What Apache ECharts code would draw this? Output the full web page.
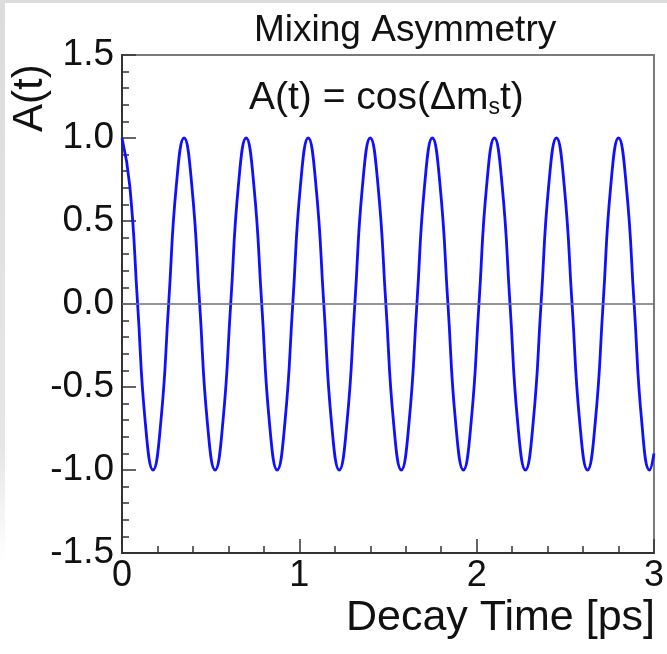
<!DOCTYPE html>
<html>
<head>
<meta charset="utf-8">
<script src="https://cdn.jsdelivr.net/npm/echarts@6/dist/echarts.min.js"></script>
<style>
html,body{margin:0;padding:0;background:#fff;}
#chart{width:667px;height:654px;}
</style>
</head>
<body>
<div id="chart"></div>
<script>
// Decay time (ps) and asymmetry values (extrema, zero crossings, ±0.71 points)
var decayTime = [0, 0.044, 0.088, 0.131, 0.175, 0.219, 0.263, 0.306, 0.35, 0.394, 0.438, 0.481, 0.525, 0.569, 0.613, 0.656, 0.7, 0.744, 0.788, 0.831, 0.875, 0.919, 0.963, 1.006, 1.05, 1.094, 1.138, 1.181, 1.225, 1.269, 1.313, 1.356, 1.4, 1.444, 1.488, 1.531, 1.575, 1.619, 1.663, 1.706, 1.75, 1.794, 1.838, 1.881, 1.925, 1.969, 2.013, 2.056, 2.1, 2.144, 2.188, 2.231, 2.275, 2.319, 2.363, 2.406, 2.45, 2.494, 2.538, 2.581, 2.625, 2.669, 2.713, 2.756, 2.8, 2.844, 2.888, 2.931, 2.975, 3.0];
var asymmetry = [1, 0.71, 0, -0.71, -1, -0.71, 0, 0.71, 1, 0.71, 0, -0.71, -1, -0.71, 0, 0.71, 1, 0.71, 0, -0.71, -1, -0.71, 0, 0.71, 1, 0.71, 0, -0.71, -1, -0.71, 0, 0.71, 1, 0.71, 0, -0.71, -1, -0.71, 0, 0.71, 1, 0.71, 0, -0.71, -1, -0.71, 0, 0.71, 1, 0.71, 0, -0.71, -1, -0.71, 0, 0.71, 1, 0.71, 0, -0.71, -1, -0.71, 0, 0.71, 1, 0.71, 0, -0.71, -1, -0.90];
var xTicks = [0, 1, 2, 3];
var yTicks = [-1.5, -1.0, -0.5, 0.0, 0.5, 1.0, 1.5];
var titleText = 'Mixing Asymmetry';
var xTitle = 'Decay Time [ps]';
var yTitle = 'A(t)';

var seriesData = decayTime.map(function (t, i) { return [t, asymmetry[i]]; });
var FONT = '"Liberation Sans", Arial, Helvetica, sans-serif';

var chart = echarts.init(document.getElementById('chart'), null, {renderer: 'canvas'});
chart.setOption({
  animation: false,
  backgroundColor: '#ffffff',
  grid: {left: 122, right: 10, top: 55, bottom: 101, show: true, borderColor: '#7a7a7a', borderWidth: 2, backgroundColor: 'transparent'},
  xAxis: {
    type: 'value', min: xTicks[0], max: xTicks[xTicks.length - 1], interval: 1,
    axisLine: {show: true, onZero: false, lineStyle: {color: '#333', width: 2}},
    axisTick: {show: true, inside: true, length: 14, lineStyle: {color: '#333', width: 1.5}},
    minorTick: {show: true, splitNumber: 5, length: 7, lineStyle: {color: '#333', width: 1.5}},
    splitLine: {show: false},
    axisLabel: {show: true, margin: 5, fontSize: 36, color: '#111', fontFamily: FONT,
      formatter: function (v) { return String(v); }}
  },
  yAxis: {
    type: 'value', min: yTicks[0], max: yTicks[yTicks.length - 1], interval: 0.5,
    axisLine: {show: true, onZero: false, lineStyle: {color: '#333', width: 2}},
    axisTick: {show: true, inside: true, length: 14, lineStyle: {color: '#333', width: 1.5}},
    minorTick: {show: true, splitNumber: 5, length: 7, lineStyle: {color: '#333', width: 1.5}},
    splitLine: {show: false},
    axisLabel: {show: true, margin: 8, fontSize: 37, color: '#111', fontFamily: FONT,
      formatter: function (v) { return v.toFixed(1); }}
  },
  series: [{
    type: 'line',
    data: seriesData,
    smooth: 0.5,
    showSymbol: false,
    clip: true,
    lineStyle: {color: '#1010ff', width: 2.8},
    markLine: {
      silent: true, symbol: 'none', label: {show: false},
      lineStyle: {color: '#707070', width: 1.5, type: 'solid'},
      data: [{yAxis: 0}]
    },
    z: 3
  }],
  graphic: [
    {type: 'rect', left: 0, top: 0, shape: {width: 5, height: 560}, silent: true, z: -10,
      style: {fill: new echarts.graphic.LinearGradient(0, 0, 0, 1, [{offset: 0, color: '#dcdcdc'}, {offset: 0.8, color: '#e6e6e6'}, {offset: 1, color: '#ffffff'}])}},
    {type: 'rect', left: 0, top: 0, shape: {width: 667, height: 3}, silent: true, z: -10, style: {fill: '#dcdcdc'}},
    {type: 'text', left: 254, top: 12, silent: true,
      style: {text: titleText, fontSize: 37, fill: '#111', fontFamily: FONT}},
    {type: 'text', left: 249, top: 79, silent: true,
      style: {text: 'A(t) = cos(Δm{s|s}t)', fontSize: 39, fill: '#111', fontFamily: FONT,
        rich: {s: {fontSize: 23, fontFamily: FONT, fill: '#111', verticalAlign: 'bottom', padding: [18, 0, 0, 0]}}}},
    {type: 'text', x: 9, y: 132, rotation: Math.PI / 2, silent: true,
      style: {text: yTitle, fontSize: 42, fill: '#111', fontFamily: FONT, textAlign: 'left', textVerticalAlign: 'top'}},
    {type: 'text', right: 12, top: 597, silent: true,
      style: {text: xTitle, fontSize: 43, fill: '#111', fontFamily: FONT}}
  ]
});
</script>
</body>
</html>
